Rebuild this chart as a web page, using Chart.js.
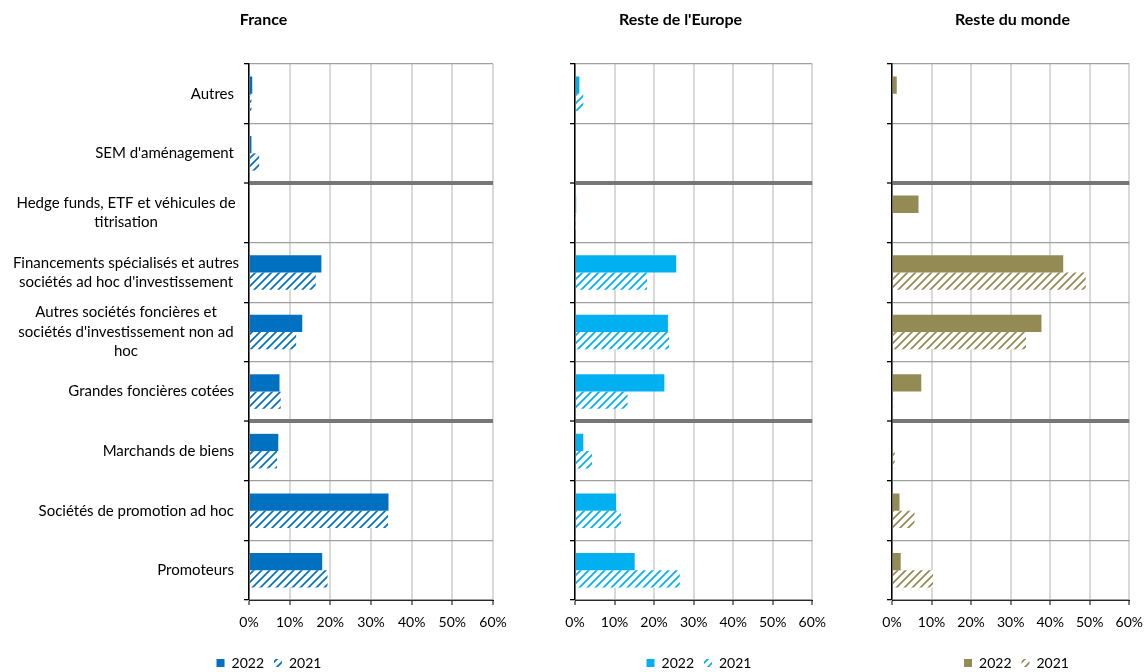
<!DOCTYPE html>
<html>
<head>
<meta charset="utf-8">
<script src="https://cdn.jsdelivr.net/npm/chart.js@4.4.0/dist/chart.umd.min.js"></script>
<style>
  html, body { margin: 0; background: #fff; overflow: hidden; }
  #wrap { position: relative; width: 1148px; height: 672px; overflow: hidden; }
  .panel { position: absolute; top: 0; height: 672px; }
</style>
</head>
<body>
<div id="wrap">
  <div class="panel" style="left:0;width:530px"><canvas id="chartFrance"></canvas></div>
  <div class="panel" style="left:535px;width:300px"><canvas id="chartEurope"></canvas></div>
  <div class="panel" style="left:860px;width:292px"><canvas id="chartMonde"></canvas></div>
</div>
<script>
// Categories, top to bottom
const categories = [
    'Autres',
    "SEM d'aménagement",
    ['Hedge funds, ETF et véhicules de', 'titrisation'],
    ['Financements spécialisés et autres', "sociétés ad hoc d'investissement"],
    ['Autres sociétés foncières et', "sociétés d'investissement non ad", 'hoc'],
    'Grandes foncières cotées',
    'Marchands de biens',
    'Sociétés de promotion ad hoc',
    'Promoteurs'
];
const seriesNames = ['2022', '2021'];

// Values in %
const france2022 = [0.8, 0.6, 0, 17.8, 13.1, 7.5, 7.2, 34.3, 18.0];
const france2021 = [0.6, 2.5, 0, 16.4, 11.6, 7.8, 6.9, 34.2, 19.3];
const europe2022 = [1.1, 0, 0.3, 25.6, 23.5, 22.6, 2.1, 10.4, 15.1];
const europe2021 = [2.1, 0, 0.2, 18.2, 23.8, 13.3, 4.3, 11.6, 26.5];
const monde2022 = [1.2, 0, 6.7, 43.3, 37.8, 7.4, 0, 1.9, 2.2];
const monde2021 = [0, 0, 0, 49.0, 33.9, 0.3, 0.7, 5.7, 10.4];

const xTicks = [0, 10, 20, 30, 40, 50, 60];
const separators = [2, 6]; // thick lines above these categories

const FONT = 'Lato, "Open Sans", sans-serif';
Chart.defaults.font.family = FONT;
Chart.defaults.font.size = 14;
Chart.defaults.color = '#000';

// Diagonal hatch used for the 2021 bars
function hatch(color) {
    const c = document.createElement('canvas');
    c.width = 8; c.height = 8;
    const g = c.getContext('2d');
    g.fillStyle = '#fff';
    g.fillRect(0, 0, 8, 8);
    g.strokeStyle = color;
    g.lineWidth = 1.7;
    g.beginPath();
    g.moveTo(0, 8); g.lineTo(8, 0);
    g.moveTo(-2, 2); g.lineTo(2, -2);
    g.moveTo(6, 10); g.lineTo(10, 6);
    g.stroke();
    return g.createPattern(c, 'repeat');
}

// Category labels: single lines right aligned, wrapped ones centred in the wrap box
const yLabelPlugin = {
    id: 'yLabels',
    afterDraw(chart) {
        const y = chart.scales.y;
        const ctx = chart.ctx;
        const right = chart.chartArea.left - 15;
        const wrapCenter = 126;
        ctx.save();
        ctx.font = '15px ' + FONT;
        ctx.fillStyle = '#000';
        ctx.textBaseline = 'middle';
        categories.forEach((lab, i) => {
            const lines = Array.isArray(lab) ? lab : [lab];
            const yc = y.getPixelForValue(i);
            lines.forEach((line, j) => {
                const ly = yc + (j - (lines.length - 1) / 2) * 19.5;
                if (lines.length === 1) {
                    ctx.textAlign = 'right';
                    ctx.fillText(line, right, ly);
                } else {
                    ctx.textAlign = 'center';
                    ctx.fillText(line, wrapCenter, ly);
                }
            });
        });
        ctx.restore();
    }
};

// Move title and legend to where they sit in the original layout
const placePlugin = {
    id: 'place',
    afterLayout(chart, args, opts) {
        const t = chart.titleBlock;
        if (t) {
            const dx = opts.titleX - opts.left - (t.left + t.right) / 2;
            t.left += dx; t.right += dx;
        }
        const lg = chart.legend;
        if (lg) {
            const dx = opts.legendX - opts.left - (lg.left + lg.right) / 2;
            const dy = opts.legendY - (lg.top + lg.options.labels.padding + 7);
            lg.left += dx; lg.right += dx;
            lg.top += dy; lg.bottom += dy;
        }
    }
};

function makeChart(id, title, v22, v21, color, cfg) {
    const plugins = [placePlugin];
    if (cfg.labels) plugins.push(yLabelPlugin);
    return new Chart(document.getElementById(id), {
        type: 'bar',
        data: {
            labels: categories,
            datasets: [
                {
                    label: seriesNames[0],
                    data: v22,
                    backgroundColor: color,
                    borderWidth: 0,
                    categoryPercentage: 0.58,
                    barPercentage: 1
                },
                {
                    label: seriesNames[1],
                    data: v21,
                    backgroundColor: hatch(color),
                    borderWidth: 0,
                    categoryPercentage: 0.58,
                    barPercentage: 1
                }
            ]
        },
        options: {
            indexAxis: 'y',
            responsive: true,
            maintainAspectRatio: false,
            animation: false,
            layout: { padding: { left: 0, right: cfg.padRight, top: 0, bottom: 4 } },
            scales: {
                x: {
                    min: xTicks[0],
                    max: xTicks[xTicks.length - 1],
                    afterFit: s => { s.height = 34; },
                    ticks: { stepSize: 10, padding: 9, callback: v => v + '%' },
                    grid: { color: '#d9d9d9', lineWidth: 2, tickColor: '#000', tickLength: 5, tickWidth: 1 },
                    border: { color: '#000', width: 1 }
                },
                y: {
                    ticks: { display: false },
                    afterFit: s => { s.width = cfg.yWidth; },
                    grid: {
                        z: 0,
                        color: c => separators.includes(c.index) ? '#777' : '#a0a0a0',
                        lineWidth: c => separators.includes(c.index) ? 4 : 1.3,
                        tickColor: '#000',
                        tickLength: 5,
                        tickWidth: 1.3
                    },
                    border: { color: '#000', width: 1.5 }
                }
            },
            plugins: {
                title: {
                    display: true,
                    text: title,
                    font: { size: 16, weight: 'bold' },
                    padding: { top: 10.7, bottom: 34.1 }
                },
                legend: {
                    position: 'bottom',
                    labels: { boxWidth: 8, boxHeight: 8, padding: 10, font: { size: 14 } }
                },
                tooltip: { enabled: false },
                place: cfg.place
            }
        },
        plugins: plugins
    });
}

makeChart('chartFrance', 'France', france2022, france2021, '#0070C0', {
    labels: true, yWidth: 249, padRight: 37,
    place: { left: 0, titleX: 263.5, legendX: 269, legendY: 663 }
});
makeChart('chartEurope', "Reste de l'Europe", europe2022, europe2021, '#00B0F0', {
    labels: false, yWidth: 40, padRight: 14,
    place: { left: 535, titleX: 680.5, legendX: 699, legendY: 663 }
});
makeChart('chartMonde', 'Reste du monde', monde2022, monde2021, '#948A54', {
    labels: false, yWidth: 32, padRight: 20,
    place: { left: 860, titleX: 1012.5, legendX: 1016.5, legendY: 663 }
});
</script>
</body>
</html>
